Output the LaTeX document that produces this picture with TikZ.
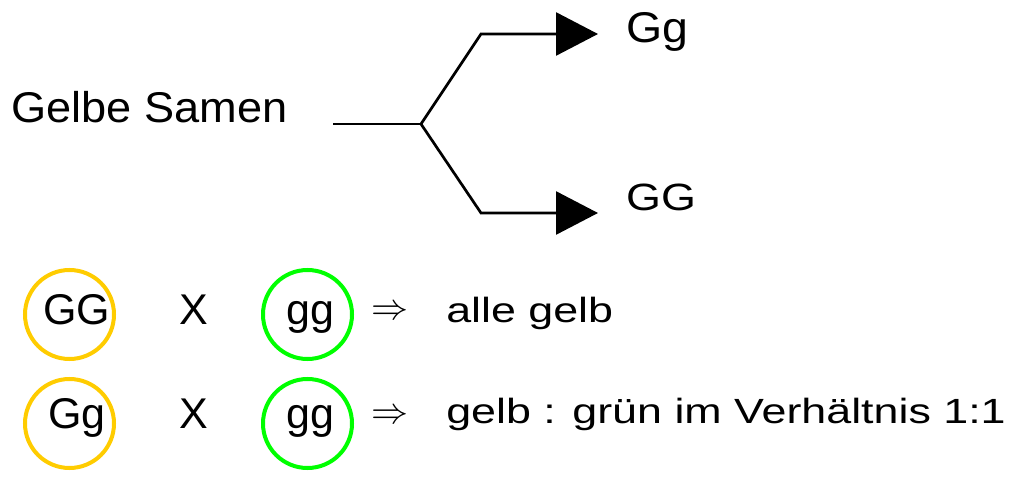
\documentclass[tikz,border=0pt]{standalone}
\usepackage{fontspec}
\setmainfont{Liberation Sans}
\usetikzlibrary{arrows.meta}
\definecolor{seedyellow}{HTML}{FFCC00}
\definecolor{seedgreen}{HTML}{00FF00}
\begin{document}
\begin{tikzpicture}[x=1pt,y=-1pt,
  txt/.style={inner sep=0pt,anchor=base west,font=\fontsize{43}{50}\selectfont},
  widetxt/.style={inner sep=0pt,anchor=base west,font=\fontsize{35}{42}\selectfont,xscale=1.28},
  branch/.style={line width=2.7pt,line join=miter},
  arr/.style={branch,-{Triangle[length=42pt,width=43pt]}},
  ycirc/.style={circle,draw=seedyellow,line width=4pt,minimum size=89pt,inner sep=0pt},
  gcirc/.style={circle,draw=seedgreen,line width=4pt,minimum size=89pt,inner sep=0pt},
  impl/.style={inner sep=0pt,scale=3.7}]
\useasboundingbox (0,0) rectangle (1034,481);
% top part
\node[txt,xscale=1.05] (gelbe) at (11,123) {Gelbe Samen};
\coordinate (start) at (333,124);
\coordinate (fork) at (421,124);
\coordinate (up) at (481,34);
\coordinate (down) at (481,213);
\coordinate (uptip) at (598,34);
\coordinate (downtip) at (598,213);
\node[txt,xscale=1.08] (Gg) at (626,43) {Gg};
\node[inner sep=0pt,anchor=base west,font=\fontsize{38}{44}\selectfont,xscale=1.18] (GG) at (626,211) {GG};
\draw[branch] (start) -- (fork);
\draw[arr] (fork) -- (up) -- (uptip);
\draw[arr] (fork) -- (down) -- (downtip);
% circles
\node[ycirc] (c1) at (69.5,314.5) {};
\node[gcirc] (c2) at (307.5,314.5) {};
\node[ycirc] (c3) at (69.5,423.5) {};
\node[gcirc] (c4) at (307.5,423.5) {};
% row 1
\node[txt] (t1) at (43,324) {GG};
\node[txt] (x1) at (179,324) {X};
\node[txt] (g1) at (286,324) {gg};
\node[impl] (i1) at (390,313) {$\Rightarrow$};
\node[widetxt] (r1) at (446,323) {alle gelb};
% row 2
\node[txt] (t2) at (48,428) {Gg};
\node[txt] (x2) at (179,428) {X};
\node[txt] (g2) at (286,428) {gg};
\node[impl] (i2) at (390,417) {$\Rightarrow$};
\node[widetxt] (r2) at (446,423) {gelb : grün im Verhältnis 1:1};
\end{tikzpicture}
\end{document}
